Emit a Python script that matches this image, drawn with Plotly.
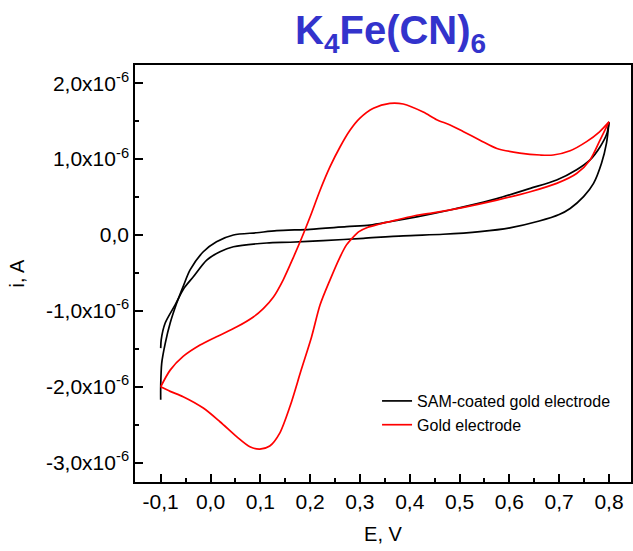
import plotly.graph_objects as go

# ---- data (E in V, i in units of 1e-6 A) ----
red_fwd_E = [-0.100, -0.081, -0.055, -0.021, 0.012, 0.053, 0.086, 0.106, 0.126, 0.146, 0.166, 0.183,
             0.200, 0.220, 0.240, 0.260, 0.280, 0.300, 0.327, 0.360, 0.387, 0.427, 0.454, 0.481,
             0.508, 0.541, 0.575, 0.621, 0.662, 0.688, 0.722, 0.755, 0.781, 0.800]
red_fwd_i = [-2.00, -1.78, -1.60, -1.45, -1.34, -1.21, -1.08, -0.97, -0.82, -0.59, -0.30, -0.04,
             0.24, 0.59, 0.90, 1.16, 1.38, 1.54, 1.67, 1.735, 1.726, 1.62, 1.52, 1.45,
             1.36, 1.25, 1.14, 1.08, 1.054, 1.054, 1.11, 1.23, 1.36, 1.49]
red_rev_E = [0.800, 0.782, 0.762, 0.735, 0.695, 0.642, 0.575, 0.508, 0.441, 0.414, 0.375, 0.340,
             0.315, 0.298, 0.286, 0.273, 0.260, 0.240, 0.220, 0.203, 0.182, 0.160, 0.139, 0.119,
             0.099, 0.079, 0.053, 0.019, -0.0145, -0.055, -0.081, -0.100]
red_rev_i = [1.49, 1.25, 0.99, 0.81, 0.68, 0.57, 0.46, 0.365, 0.286, 0.26, 0.20, 0.145,
             0.10, 0.045, -0.03, -0.13, -0.29, -0.59, -0.92, -1.34, -1.78, -2.25, -2.61, -2.78,
             -2.82, -2.79, -2.66, -2.46, -2.28, -2.13, -2.06, -2.00]

blk_fwd_E = [-0.100, -0.100, -0.098, -0.091, -0.081, -0.068, -0.055, -0.041, -0.0145, 0.012, 0.046,
             0.093, 0.133, 0.200, 0.273, 0.320, 0.360, 0.414, 0.481, 0.508, 0.575, 0.642, 0.695,
             0.735, 0.762, 0.782, 0.796, 0.800]
blk_fwd_i = [-2.17, -2.00, -1.69, -1.43, -1.16, -0.90, -0.68, -0.46, -0.22, -0.088, 0.0,
             0.03, 0.057, 0.075, 0.11, 0.13, 0.175, 0.24, 0.33, 0.37, 0.48, 0.615, 0.725,
             0.86, 0.99, 1.16, 1.34, 1.49]
blk_rev_E = [0.800, 0.795, 0.785, 0.769, 0.749, 0.722, 0.700, 0.660, 0.601, 0.541, 0.467,
             0.387, 0.307, 0.226, 0.160, 0.113, 0.046, 0.019, -0.0076, -0.0345, -0.053, -0.071,
             -0.091, -0.099, -0.100]
blk_rev_i = [1.49, 1.21, 0.945, 0.68, 0.505, 0.35, 0.27, 0.185, 0.095, 0.045, 0.01,
             -0.01, -0.043, -0.075, -0.095, -0.105, -0.154, -0.22, -0.33, -0.55, -0.70, -0.92,
             -1.16, -1.38, -1.49]

x_ticks = [-0.1, 0.0, 0.1, 0.2, 0.3, 0.4, 0.5, 0.6, 0.7, 0.8]
x_labels = ["-0,1", "0,0", "0,1", "0,2", "0,3", "0,4", "0,5", "0,6", "0,7", "0,8"]
y_ticks = [-3e-6, -2e-6, -1e-6, 0.0, 1e-6, 2e-6]
y_labels = ["-3,0x10<sup>-6</sup>", "-2,0x10<sup>-6</sup>", "-1,0x10<sup>-6</sup>", "0,0",
            "1,0x10<sup>-6</sup>", "2,0x10<sup>-6</sup>"]

FONT = "Liberation Sans, Arial, sans-serif"


def scaled(vals):
    return [v * 1e-6 for v in vals]


fig = go.Figure()
branches = [
    (blk_fwd_E, blk_fwd_i, "black", "SAM-coated gold electrode", True, "sam"),
    (blk_rev_E, blk_rev_i, "black", "SAM-coated gold electrode", False, "sam"),
    (red_fwd_E, red_fwd_i, "#ff0000", "Gold electrode", True, "gold"),
    (red_rev_E, red_rev_i, "#ff0000", "Gold electrode", False, "gold"),
]
for E, I, col, name, show, grp in branches:
    fig.add_trace(go.Scatter(x=E, y=scaled(I), mode="lines", name=name, showlegend=show,
                             legendgroup=grp,
                             line=dict(color=col, width=1.7, shape="spline", smoothing=0.8)))

axis_common = dict(showline=True, linecolor="black", linewidth=1.5, mirror=True,
                   ticks="inside", ticklen=8, tickwidth=1.5, tickcolor="black",
                   showgrid=False, zeroline=False, automargin=False,
                   tickfont=dict(family=FONT, size=21, color="black"))

fig.update_xaxes(range=[-0.1516, 0.8442], tickmode="array", tickvals=x_ticks, ticktext=x_labels,
                 title=dict(text="E, V", font=dict(family=FONT, size=20, color="black"), standoff=15),
                 minor=dict(dtick=0.05, tick0=-0.1, ticks="inside", ticklen=4, tickwidth=1.5,
                            tickcolor="black"),
                 **axis_common)
fig.update_yaxes(range=[-3.254e-6, 2.240e-6], tickmode="array", tickvals=y_ticks, ticktext=y_labels,
                 title=dict(text="i, A", font=dict(family=FONT, size=20, color="black"), standoff=16),
                 minor=dict(dtick=0.5e-6, tick0=0, ticks="inside", ticklen=4, tickwidth=1.5,
                            tickcolor="black"),
                 **axis_common)

fig.update_layout(
    width=633, height=551,
    margin=dict(l=135, r=2, t=65, b=69),
    paper_bgcolor="white", plot_bgcolor="white",
    font=dict(family=FONT, color="black"),
    title=dict(text="<b>K<sub>4</sub>Fe(CN)<sub>6</sub></b>",
               font=dict(family=FONT, size=40, color="#3333cc"),
               x=0.617, xanchor="center", y=0.945, yanchor="middle", xref="container", yref="container",
               automargin=False),
    showlegend=True,
    legend=dict(x=0.488, y=0.235, xanchor="left", yanchor="top", bgcolor="rgba(0,0,0,0)",
                font=dict(family=FONT, size=16, color="black"), tracegroupgap=0, itemwidth=30),
)

fig.write_html("out.html", config={"displayModeBar": False},
               post_script="document.body.style.margin='0';document.body.style.padding='0';")
